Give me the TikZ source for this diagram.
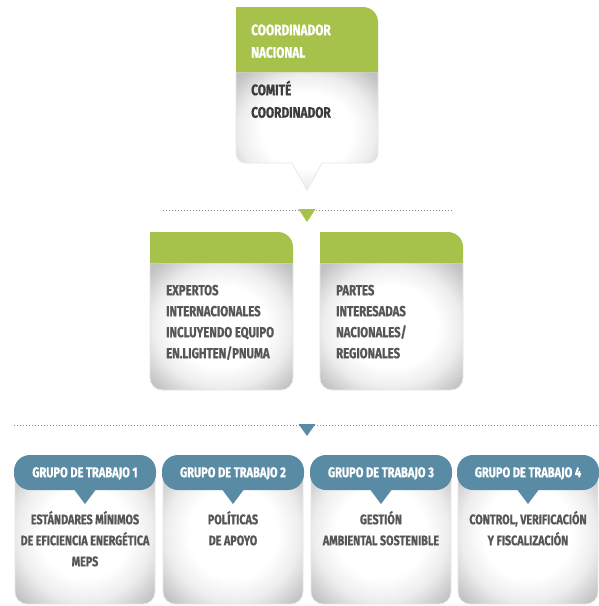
\documentclass[tikz,border=0pt]{standalone}
\usepackage{fontspec}
\setmainfont{Fira Sans}[FakeStretch=0.78, BoldFeatures={FakeBold=0.75}]
\definecolor{grn}{HTML}{A7C24A}
\definecolor{blu}{HTML}{5A8BA5}
\definecolor{txt}{HTML}{565656}
\definecolor{txtdark}{HTML}{3C3C3C}
\definecolor{dotc}{HTML}{8A8A8A}
\pgfdeclareradialshading{softbox}{\pgfpoint{0bp}{0bp}}{color(0bp)=(white); color(16bp)=(white); color(24bp)=(black!7); color(33bp)=(black!24); color(50bp)=(black!26)}
\begin{document}
\begin{tikzpicture}[x=1pt,y=-1pt,
  whitebody/.style={shading=softbox},
  softedge/.style={draw=black!9,line width=0.8pt},
  greenfill/.style={fill=grn},
  bluefill/.style={fill=blu},
  dotline/.style={draw=dotc,line width=0.9pt,dash pattern=on 0.9pt off 2.1pt},
  toptxt/.style={anchor=north west,inner sep=0pt,align=left,font=\bfseries\fontsize{15.2}{22.5}\selectfont},
  midtxt/.style={anchor=north west,inner sep=0pt,align=left,text=txt,font=\bfseries\fontsize{14.6}{21}\selectfont},
  hdtxt/.style={anchor=north,inner sep=0pt,align=center,text=white,font=\bfseries\fontsize{14.2}{21}\selectfont},
  bottxt/.style={anchor=north,inner sep=0pt,align=center,text=txt,font=\bfseries\fontsize{13.8}{21}\selectfont}]
\useasboundingbox (0,0) rectangle (598,606);
\fill[white] (0,0) rectangle (598,606);
\newcommand{\fs}{\rule{0pt}{15pt}}

% ---------- top box ----------
\path[whitebody,softedge] (236,72) -- (378,72) -- (378,153) arc[start angle=0,end angle=90,radius=10]
  -- (322,163) -- (307,190) -- (292,163) -- (246,163) arc[start angle=90,end angle=180,radius=10] -- cycle;
\path[greenfill] (236,72) -- (236,7) -- (363,7) arc[start angle=270,end angle=360,radius=15] -- (378,72) -- cycle;
\node[toptxt,text=white] (coord) at (251,20) {\fs COORDINADOR\\NACIONAL};
\node[toptxt,text=txtdark] (comite) at (251,80) {\fs COMITÉ\\COORDINADOR};

% ---------- first separator ----------
\coordinate (s1a) at (163,210);
\coordinate (s1b) at (453,210);
\draw[dotline] (s1a) -- (s1b);
\fill[grn] (298.5,209) -- (315.5,209) -- (307,222) -- cycle;

% ---------- middle boxes ----------
\path[whitebody,softedge] (150,263) -- (293,263) -- (293,378) arc[start angle=0,end angle=90,radius=12]
  -- (162,390) arc[start angle=90,end angle=180,radius=12] -- cycle;
\path[greenfill] (150,263) -- (150,232) -- (278,232) arc[start angle=270,end angle=360,radius=15] -- (293,263) -- cycle;
\node[midtxt] (expertos) at (166,280) {\fs EXPERTOS\\INTERNACIONALES\\INCLUYENDO EQUIPO\\EN.LIGHTEN/PNUMA};

\path[whitebody,softedge] (320,263) -- (463,263) -- (463,378) arc[start angle=0,end angle=90,radius=12]
  -- (332,390) arc[start angle=90,end angle=180,radius=12] -- cycle;
\path[greenfill] (320,263) -- (320,232) -- (448,232) arc[start angle=270,end angle=360,radius=15] -- (463,263) -- cycle;
\node[midtxt] (partes) at (336,280) {\fs PARTES\\INTERESADAS\\NACIONALES/\\REGIONALES};

% ---------- second separator ----------
\coordinate (s2a) at (14,425);
\coordinate (s2b) at (597,425);
\draw[dotline] (s2a) -- (s2b);
\fill[blu] (298.5,424) -- (315.5,424) -- (307,436) -- cycle;

% ---------- working groups ----------
\foreach \c/\n/\t in {85/1/{ESTÁNDARES MÍNIMOS\\DE EFICIENCIA ENERGÉTICA\\MEPS},
                     233/2/{POLÍTICAS\\DE APOYO},
                     381/3/{GESTIÓN\\AMBIENTAL SOSTENIBLE},
                     528/4/{CONTROL, VERIFICACIÓN\\Y FISCALIZACIÓN}}{
  \path[whitebody,softedge,rounded corners=12pt] (\c-70,462) rectangle (\c+70,604);
  \path[bluefill,rounded corners=16pt] (\c-71,455) rectangle (\c+71,490);
  \fill[blu] (\c-12,488) -- (\c+12,488) -- (\c,504) -- cycle;
  \node[hdtxt] (gh\n) at (\c,462) {\fs GRUPO DE TRABAJO \n};
  \node[bottxt] (gt\n) at (\c,509) {\fs\t};
}
\end{tikzpicture}
\end{document}
